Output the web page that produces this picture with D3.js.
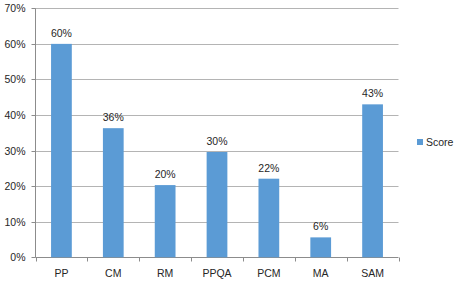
<!DOCTYPE html>
<html>
<head>
<meta charset="utf-8">
<script src="https://cdn.jsdelivr.net/npm/d3@7"></script>
<style>
  body { margin: 0; background: #fff; }
  svg text { font-family: "Liberation Sans", Arial, sans-serif; fill: #262626; }
</style>
</head>
<body>
<div id="chart"></div>
<script>
// data
const categories = ["PP", "CM", "RM", "PPQA", "PCM", "MA", "SAM"];
const scores = [0.60, 0.363, 0.203, 0.296, 0.221, 0.056, 0.43];
const yTicks = [0, 0.1, 0.2, 0.3, 0.4, 0.5, 0.6, 0.7];
const seriesName = "Score";

const width = 455, height = 282;
const margin = { top: 8.3, right: 56.5, bottom: 24.7, left: 35.5 };
const plotW = width - margin.left - margin.right;
const plotH = height - margin.top - margin.bottom;

const svg = d3.select("#chart").append("svg")
    .attr("width", width)
    .attr("height", height);

const x = d3.scaleBand()
    .domain(categories)
    .range([margin.left, margin.left + plotW])
    .paddingInner(0.6)
    .paddingOuter(0.3);

const y = d3.scaleLinear()
    .domain([0, 0.7])
    .range([margin.top + plotH, margin.top]);

const crisp = v => Math.round(v) + 0.5;
const pct = d3.format(".0%");

// gridlines
svg.append("g").selectAll("line")
    .data(yTicks.slice(1))
    .join("line")
    .attr("x1", margin.left)
    .attr("x2", margin.left + plotW)
    .attr("y1", d => crisp(y(d)))
    .attr("y2", d => crisp(y(d)))
    .attr("stroke", "#b4b4b4")
    .attr("stroke-width", 1);

// y axis
const yAxis = d3.axisLeft(y).tickValues(yTicks).tickFormat(pct).tickSize(4).tickPadding(6);
const gy = svg.append("g")
    .attr("transform", `translate(${crisp(margin.left) - 1},0)`)
    .call(yAxis);
gy.select(".domain").attr("stroke", "#8c8c8c").attr("d", `M0,${y(0.7)}V${crisp(y(0))}`);
gy.selectAll(".tick line").attr("stroke", "#8c8c8c").attr("transform", function() {
    return null;
});
gy.selectAll(".tick").attr("transform", d => `translate(0,${crisp(y(d))})`);
gy.selectAll(".tick text").style("font-size", "10.5px").attr("fill", "#262626");

// x axis with ticks at category boundaries
const step = x.step();
const bounds = d3.range(categories.length + 1).map(i => x.range()[0] + i * step);
const gx = svg.append("g");
gx.append("line")
    .attr("x1", margin.left)
    .attr("x2", margin.left + plotW)
    .attr("y1", crisp(y(0)))
    .attr("y2", crisp(y(0)))
    .attr("stroke", "#8c8c8c");
gx.selectAll(".btick")
    .data(bounds)
    .join("line")
    .attr("class", "btick")
    .attr("x1", d => crisp(d))
    .attr("x2", d => crisp(d))
    .attr("y1", crisp(y(0)))
    .attr("y2", crisp(y(0)) + 4)
    .attr("stroke", "#8c8c8c");
gx.selectAll("text")
    .data(categories)
    .join("text")
    .attr("x", d => x(d) + x.bandwidth() / 2)
    .attr("y", y(0) + 19.5)
    .attr("text-anchor", "middle")
    .style("font-size", "10.5px")
    .text(d => d);

// bars
svg.append("g").selectAll("rect")
    .data(categories.map((c, i) => ({ c, v: scores[i] })))
    .join("rect")
    .attr("x", d => x(d.c))
    .attr("y", d => y(d.v))
    .attr("width", x.bandwidth())
    .attr("height", d => y(0) - y(d.v))
    .attr("fill", "#5b9bd5");

// value labels
svg.append("g").selectAll("text")
    .data(categories.map((c, i) => ({ c, v: scores[i] })))
    .join("text")
    .attr("x", d => x(d.c) + x.bandwidth() / 2)
    .attr("y", d => y(d.v) - 7)
    .attr("text-anchor", "middle")
    .style("font-size", "10.5px")
    .text(d => pct(d.v));

// legend
const legend = svg.append("g")
    .attr("transform", `translate(417,139)`);
legend.append("rect")
    .attr("width", 6)
    .attr("height", 6)
    .attr("fill", "#5b9bd5");
legend.append("text")
    .attr("x", 9)
    .attr("y", 3)
    .attr("dy", "0.35em")
    .style("font-size", "10.5px")
    .text(seriesName);
</script>
</body>
</html>
